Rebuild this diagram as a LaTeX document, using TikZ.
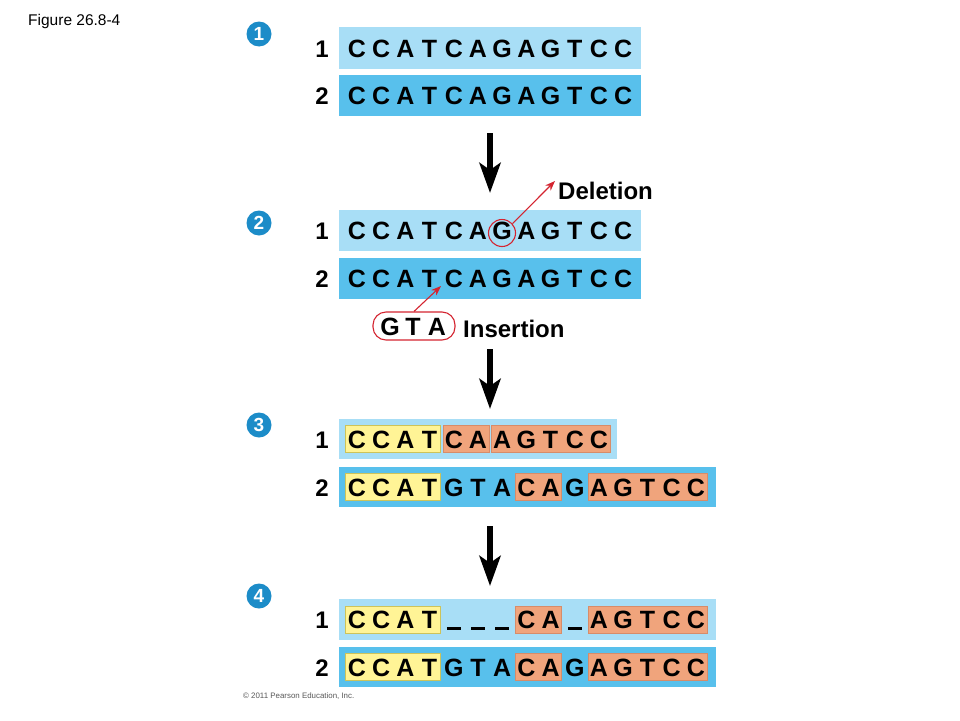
\documentclass[tikz,border=0pt]{standalone}
\usepackage{fontspec}
\setmainfont{Liberation Sans}
\usetikzlibrary{arrows.meta}
\definecolor{lblue}{RGB}{168,222,246}
\definecolor{dblue}{RGB}{88,192,236}
\definecolor{yel}{RGB}{255,244,150}
\definecolor{yelb}{RGB}{205,195,90}
\definecolor{org}{RGB}{240,164,124}
\definecolor{orgb}{RGB}{215,140,105}
\definecolor{stepblue}{RGB}{28,140,200}
\definecolor{mred}{RGB}{212,36,48}
\begin{document}
\begin{tikzpicture}[x=1pt,y=-1pt,
  seq/.style={anchor=base, inner sep=0pt, font=\fontsize{25}{25}\selectfont\bfseries},
  rowlab/.style={anchor=base, inner sep=0pt, font=\fontsize{24}{24}\selectfont\bfseries},
  stepnum/.style={circle, fill=stepblue, text=white, minimum size=25pt, inner sep=0pt, font=\fontsize{19}{19}\selectfont\bfseries},
  lrow/.style={fill=lblue, draw=none},
  drow/.style={fill=dblue, draw=none},
  hly/.style={fill=yel, draw=yelb, line width=0.8pt},
  hlo/.style={fill=org, draw=orgb, line width=0.8pt},
  bigarrow/.style={line width=6pt, -{Stealth[length=30pt,width=21pt,inset=7pt]}},
  redarrow/.style={draw=mred, line width=1.1pt, -{Stealth[length=10pt,width=7.5pt]}},
  lbl/.style={anchor=base west, inner sep=0pt, font=\fontsize{24}{24}\selectfont\bfseries}
]
\useasboundingbox (0,0) rectangle (960,720);
\fill[white] (0,0) rectangle (960,720);

% header and footer
\node[anchor=base west, inner sep=0pt, font=\fontsize{15.5}{15.5}\selectfont] (fig) at (28,25) {Figure 26.8-4};
\node[anchor=base west, inner sep=0pt, text=black!65, font=\fontsize{7.9}{7.9}\selectfont] (copy) at (243,698) {\textcopyright\ 2011 Pearson Education, Inc.};

% step numbers
\node[stepnum] (s1) at (259,34) {1};
\node[stepnum] (s2) at (259,223) {2};
\node[stepnum] (s3) at (259,425) {3};
\node[stepnum] (s4) at (259,596) {4};

% ---------- Step 1 ----------
\fill[lrow] (339,27) rectangle (641,69);
\fill[drow] (339,75) rectangle (641,116);
\node[rowlab] (l11) at (322,57) {1};
\node[rowlab] (l12) at (322,104.5) {2};
\foreach \l [count=\i from 0] in {C,C,A,T,C,A,G,A,G,T,C,C}
  \node[seq] (a\i) at ({357+24.2*\i},57) {\l};
\foreach \l [count=\i from 0] in {C,C,A,T,C,A,G,A,G,T,C,C}
  \node[seq] (b\i) at ({357+24.2*\i},104.5) {\l};

% arrow 1
\coordinate (ar1s) at (490,133);
\coordinate (ar1e) at (490,193);
\draw[bigarrow] (ar1s) -- (ar1e);

% ---------- Step 2 ----------
\fill[lrow] (339,210) rectangle (641,251);
\fill[drow] (339,258) rectangle (641,299);
\node[rowlab] (l21) at (322,239.5) {1};
\node[rowlab] (l22) at (322,287.5) {2};
\foreach \l [count=\i from 0] in {C,C,A,T,C,A,G,A,G,T,C,C}
  \node[seq] (c\i) at ({357+24.2*\i},239.5) {\l};
\foreach \l [count=\i from 0] in {C,C,A,T,C,A,G,A,G,T,C,C}
  \node[seq] (d\i) at ({357+24.2*\i},287.5) {\l};

\node[circle, draw=mred, line width=1.1pt, minimum size=27pt, inner sep=0pt] (gcirc) at (502,233) {};
\coordinate (deltip) at (555,181);
\draw[redarrow] (gcirc.42) -- (deltip);
\node[lbl] (del) at (558,199) {Deletion};

\node[draw=mred, line width=1.1pt, rounded corners=13pt, minimum width=82pt, minimum height=28pt, inner sep=0pt] (gta) at (414,326) {};
\node[seq] (g1) at (390,335) {G};
\node[seq] (g2) at (413,335) {T};
\node[seq] (g3) at (437,335) {A};
\coordinate (instip) at (441,286);
\draw[redarrow] (gta.north) -- (instip);
\node[lbl] (ins) at (463,337) {Insertion};

% arrow 2
\coordinate (ar2s) at (490,349);
\coordinate (ar2e) at (490,409);
\draw[bigarrow] (ar2s) -- (ar2e);

% ---------- Step 3 ----------
\fill[lrow] (339,419) rectangle (617,459);
\fill[drow] (339,467) rectangle (716,507);
\node[rowlab] (l31) at (322,448) {1};
\node[rowlab] (l32) at (322,496) {2};
\draw[hly] (345.5,425.5) rectangle (440.5,452.5);
\draw[hlo] (443,425.5) rectangle (489,452.5);
\draw[hlo] (491.5,425.5) rectangle (610,452.5);
\draw[hly] (345.5,473.5) rectangle (440.5,500.5);
\draw[hlo] (515.5,473.5) rectangle (561.5,500.5);
\draw[hlo] (588,473.5) rectangle (707,500.5);
\foreach \l [count=\i from 0] in {C,C,A,T,C,A,A,G,T,C,C}
  \node[seq] (e\i) at ({357+24.2*\i},448) {\l};
\foreach \l [count=\i from 0] in {C,C,A,T,G,T,A,C,A,G,A,G,T,C,C}
  \node[seq] (f\i) at ({357+24.2*\i},496) {\l};

% arrow 3
\coordinate (ar3s) at (490,526);
\coordinate (ar3e) at (490,586);
\draw[bigarrow] (ar3s) -- (ar3e);

% ---------- Step 4 ----------
\fill[lrow] (339,599) rectangle (716,640);
\fill[drow] (339,647) rectangle (716,687);
\node[rowlab] (l41) at (322,628.5) {1};
\node[rowlab] (l42) at (322,676) {2};
\draw[hly] (345.5,606) rectangle (440.5,633);
\draw[hlo] (515.5,606) rectangle (561.5,633);
\draw[hlo] (588,606) rectangle (707,633);
\draw[hly] (345.5,653.5) rectangle (440.5,680.5);
\draw[hlo] (515.5,653.5) rectangle (561.5,680.5);
\draw[hlo] (588,653.5) rectangle (707,680.5);
\foreach \l/\i in {C/0,C/1,A/2,T/3,C/7,A/8,A/10,G/11,T/12,C/13,C/14}
  \node[seq] (h\i) at ({357+24.2*\i},628.5) {\l};
\foreach \i in {4,5,6,9}
  \node[seq] (u\i) at ({357+24.2*\i},628.5) {\rule[-1.5pt]{14pt}{2.6pt}};
\foreach \l [count=\i from 0] in {C,C,A,T,G,T,A,C,A,G,A,G,T,C,C}
  \node[seq] (k\i) at ({357+24.2*\i},676) {\l};
\end{tikzpicture}
\end{document}
